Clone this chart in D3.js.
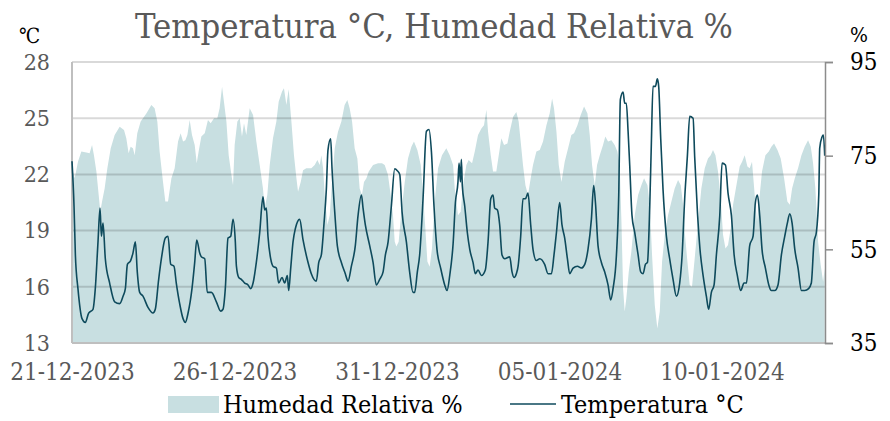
<!DOCTYPE html>
<html><head><meta charset="utf-8">
<script src="https://cdn.jsdelivr.net/npm/d3@7"></script>
<style>
body{margin:0;background:#fff;}
text{font-family:"DejaVu Serif Condensed","DejaVu Serif",serif;font-stretch:condensed;}
</style></head><body>
<svg id="chart" width="890" height="421"></svg>
<script>
// ---------------- data ----------------
const chartTitle = "Temperatura °C, Humedad Relativa %";
const tempUnit = "℃";
const humUnit = "%";
const seriesNames = ["Humedad Relativa %", "Temperatura °C"];
const startDate = "2023-12-21T00:00:00";
const endHour = 556;
const xTickDates = ["2023-12-21", "2023-12-26", "2023-12-31", "2024-01-05", "2024-01-10"];
const tempTicks = [13, 16, 19, 22, 25, 28];
const humTicks = [35, 55, 75, 95];

// [hours since start, °C]
const tempReadings = [
 [0,22.7],[1.5,20.3],[2.5,17.7],[4.4,15.9],[7.4,14.3],[9.8,14.1],[12.3,14.6],[15.5,14.8],[17.2,15.9],[19.2,18.4],
 [20.7,20.2],[21.7,18.7],[22.9,19.4],[24.6,17.5],[27.8,16.2],[31.5,15.2],[35.2,15.1],[37.7,15.5],[39.4,15.9],[40.9,17.2],
 [43.3,17.4],[45.0,17.8],[46.8,18.4],[48.2,16.8],[50.0,15.7],[52.4,15.5],[56.1,14.9],[59.8,14.6],[61.5,14.8],[64.0,16.4],
 [66.0,17.5],[68.9,18.6],[70.9,18.7],[72.9,17.2],[75.3,17.1],[77.0,16.2],[79.5,15.1],[82.0,14.3],[83.7,14.1],[85.7,14.6],
 [88.6,15.9],[90.6,17.3],[92.1,18.5],[94.3,17.8],[95.5,17.6],[98.0,17.5],[99.9,15.7],[102.9,15.7],[106.6,15.2],[109.8,14.7],
 [111.5,14.8],[113.2,15.9],[115.2,18.6],[117.2,18.7],[118.9,19.6],[120.6,18.4],[121.4,17.1],[123.1,16.5],[125.0,16.4],[127.5,16.2],
 [130.0,16.1],[131.9,15.9],[133.7,16.2],[136.1,17.3],[138.6,18.9],[141.0,20.8],[142.3,20.1],[143.5,20.2],[144.7,18.7],[146.7,17.5],
 [148.4,17.1],[150.9,17.0],[152.6,16.2],[155.1,16.5],[157.0,16.2],[159.0,16.6],[160.0,15.8],[161.5,17.0],[163.2,18.4],[164.9,19.1],
 [168.1,19.6],[170.6,18.5],[174.3,17.3],[176.7,16.7],[180.4,16.3],[182.2,17.3],[184.1,17.7],[186.1,19.4],[187.8,21.2],[189.0,23.3],
 [191.0,23.9],[192.0,22.3],[194.0,20.0],[195.9,18.2],[198.9,17.3],[201.8,16.7],[203.8,16.3],[206.3,17.1],[209.2,18.2],[211.2,19.8],
 [213.7,20.9],[214.9,20.2],[216.6,19.3],[219.8,18.2],[222.3,17.3],[224.7,16.1],[227.2,16.4],[229.7,16.8],[231.4,17.7],[233.4,18.4],
 [235.8,20.3],[238.3,22.3],[240.2,22.2],[242.0,22.0],[243.7,20.0],[246.9,18.4],[249.3,16.8],[251.8,15.7],[253.0,15.7],[255.0,16.8],
 [256.7,17.7],[259.2,20.7],[261.7,24.3],[263.6,24.4],[265.4,23.2],[267.3,20.3],[269.5,18.0],[272.2,17.0],[275.2,16.1],[276.9,15.8],
 [278.9,16.6],[281.4,18.3],[283.1,20.5],[285.0,21.6],[285.8,22.6],[286.8,21.6],[287.5,22.8],[288.2,21.4],[290.0,20.3],[291.9,18.9],
 [293.7,18.0],[296.1,17.3],[297.8,16.7],[299.8,16.9],[302.3,16.6],[305.2,16.9],[307.2,18.4],[309.2,20.7],[310.9,20.9],[312.1,20.2],
 [314.1,20.1],[315.8,19.3],[317.5,17.7],[319.5,17.5],[323.2,17.6],[324.9,16.8],[326.4,16.5],[328.1,16.7],[329.4,17.1],[331.3,18.7],
 [333.0,20.7],[334.8,20.7],[336.7,21.0],[338.7,19.3],[340.4,18.0],[342.9,17.4],[345.4,17.5],[349.0,17.2],[351.5,16.7],[354.0,16.7],
 [355.9,17.7],[357.7,18.9],[360.1,20.5],[361.8,19.3],[363.8,18.6],[365.8,17.5],[367.5,16.7],[370.0,17.0],[373.2,17.1],[376.1,17.0],
 [378.6,17.2],[381.0,18.0],[383.5,19.6],[385.2,21.4],[386.5,20.5],[388.4,18.2],[390.9,17.3],[393.3,16.8],[395.8,16.1],[397.8,15.3],
 [399.5,15.9],[402.0,17.7],[403.7,20.9],[404.9,26.0],[406.9,26.4],[408.1,25.8],[409.3,25.8],[410.6,24.3],[411.8,22.5],[413.5,19.8],
 [415.5,18.9],[418.0,17.7],[419.9,16.8],[421.7,16.7],[423.4,17.2],[424.9,17.3],[426.6,20.3],[427.8,23.7],[429.0,26.7],[430.8,26.7],
 [432.2,27.1],[433.2,26.7],[434.7,23.9],[436.4,21.2],[438.9,18.7],[441.3,17.5],[443.8,16.4],[446.3,15.5],[448.7,16.2],[450.5,17.7],
 [452.4,20.7],[454.4,23.0],[456.1,25.1],[458.6,25.0],[459.8,22.9],[461.8,20.0],[463.7,18.0],[466.0,16.6],[468.4,15.5],[470.1,14.8],
 [472.1,15.7],[474.1,16.1],[475.8,17.7],[478.3,19.8],[480.0,22.6],[482.5,22.5],[484.4,21.0],[486.9,19.8],[488.9,17.7],[491.3,16.6],
 [493.8,15.8],[496.2,16.2],[498.0,16.2],[500.4,18.2],[502.9,18.7],[504.6,20.5],[506.1,20.9],[507.8,19.8],[509.5,18.0],[512.0,17.0],
 [514.5,16.1],[516.4,15.8],[518.9,15.8],[521.3,16.1],[523.8,17.7],[526.3,18.7],[528.2,19.4],[530.0,19.9],[531.7,19.4],[533.7,18.0],
 [536.1,17.0],[538.6,15.8],[541.0,15.8],[543.9,15.9],[545.9,16.2],[547.9,18.4],[549.6,18.9],[551.4,20.9],[552.1,23.4],[553.8,24.0],
 [554.8,24.1],[555.8,23.0]
];

// [hours since start, %]
const humReadings = [
 [0,72.3],[2.0,70.2],[4.4,73.7],[6.9,75.9],[10.6,75.7],[13.0,75.5],[14.8,77.3],[16.2,75.1],[18.0,71.6],[19.7,66.6],
 [20.9,63.0],[22.2,65.2],[24.1,68.0],[26.1,72.3],[28.6,76.6],[31.5,79.4],[35.2,81.2],[38.4,80.5],[40.1,78.7],[41.8,75.5],
 [43.3,76.9],[45.0,76.6],[46.3,75.1],[48.2,79.8],[50.7,82.3],[54.9,84.0],[58.6,85.8],[61.0,85.1],[63.0,82.3],[64.7,75.9],
 [67.2,69.4],[68.9,65.2],[70.9,65.2],[73.4,70.2],[75.8,72.3],[78.3,78.0],[80.2,79.8],[82.0,78.0],[83.7,78.3],[85.2,79.4],
 [86.9,82.6],[88.6,79.4],[90.6,77.3],[92.1,73.4],[93.5,75.9],[95.5,79.1],[98.0,79.8],[100.4,82.6],[102.4,81.9],[104.9,83.0],
 [107.3,83.0],[109.0,85.1],[110.8,89.7],[112.2,86.5],[114.0,82.3],[115.7,75.1],[117.7,70.9],[118.9,68.7],[120.1,77.3],[122.1,82.3],
 [123.8,83.0],[125.5,79.1],[127.0,81.9],[128.7,79.4],[131.2,85.1],[133.7,83.7],[136.1,78.0],[138.6,73.0],[141.0,68.0],[142.3,63.8],
 [144.2,66.6],[146.0,73.0],[148.4,78.7],[150.9,82.3],[152.6,86.5],[155.1,88.7],[156.5,89.4],[158.3,85.8],[160.0,89.2],[162.0,82.3],
 [163.9,75.1],[165.7,70.2],[166.9,67.3],[168.9,69.4],[170.6,71.9],[173.0,72.3],[176.7,72.3],[179.2,73.0],[181.2,74.1],[182.9,73.0],
 [184.1,75.1],[185.4,72.3],[186.6,66.6],[188.6,60.2],[190.3,62.3],[192.0,69.4],[194.0,76.6],[196.4,80.1],[198.9,82.3],[201.3,85.8],
 [203.3,86.9],[205.0,85.1],[206.8,82.3],[208.7,76.6],[210.7,74.4],[212.4,68.0],[214.1,66.6],[215.6,69.4],[217.4,70.2],[219.1,71.6],
 [222.3,73.0],[226.0,73.4],[228.9,73.4],[230.9,73.0],[233.3,70.9],[235.3,66.6],[237.0,62.3],[238.3,56.6],[239.5,55.6],[241.2,56.6],
 [243.2,63.0],[245.7,69.4],[248.1,74.4],[250.6,76.9],[252.5,78.0],[255.0,76.2],[257.5,73.0],[259.2,66.6],[260.9,59.5],[262.4,52.4],
 [264.1,51.3],[265.8,55.2],[267.8,65.2],[270.3,72.3],[273.2,75.1],[276.4,76.6],[278.9,75.1],[281.4,73.0],[282.6,68.0],[285.0,62.3],
 [287.0,63.0],[288.7,68.7],[291.2,73.0],[292.9,74.1],[295.4,73.4],[297.4,75.9],[299.8,79.4],[302.3,80.8],[304.2,81.5],[306.0,84.8],
 [307.2,80.1],[309.2,75.1],[310.9,71.6],[313.3,71.6],[315.1,75.1],[317.0,78.7],[319.0,77.3],[321.5,77.6],[323.2,80.1],[325.7,83.3],
 [328.1,84.3],[329.8,82.3],[331.3,78.0],[333.0,73.0],[334.8,68.7],[336.7,66.6],[338.7,70.2],[340.4,73.0],[342.9,75.9],[345.4,76.2],
 [347.8,78.0],[350.3,81.5],[352.7,84.0],[354.5,87.2],[355.9,85.1],[357.7,80.1],[359.4,73.0],[361.4,69.4],[363.8,73.7],[366.3,76.6],
 [368.7,79.4],[370.7,79.8],[373.2,81.5],[375.6,83.7],[378.1,85.5],[380.6,84.0],[382.3,79.4],[384.0,73.0],[386.0,68.7],[387.7,73.0],
 [389.7,75.1],[392.1,77.3],[393.8,79.1],[395.8,78.0],[398.3,78.3],[400.7,77.3],[402.7,75.9],[404.4,73.0],[405.7,60.9],[406.9,46.7],
 [408.1,41.7],[409.3,44.5],[411.1,50.2],[413.0,54.5],[415.5,62.3],[418.0,66.6],[420.4,68.7],[422.4,70.2],[424.9,68.7],[426.6,64.5],
 [428.3,53.8],[430.3,43.1],[432.2,38.1],[434.0,41.7],[435.7,52.4],[437.7,58.1],[440.1,62.3],[442.6,65.2],[445.0,68.0],[447.5,69.8],
 [449.5,68.7],[451.2,64.5],[452.4,58.8],[454.4,52.4],[456.1,47.4],[457.8,47.0],[459.8,53.1],[462.3,60.9],[464.7,68.0],[467.2,72.3],
 [469.6,74.4],[471.6,75.1],[473.3,76.2],[475.1,75.1],[477.0,71.6],[479.0,65.9],[480.7,58.1],[482.5,55.2],[484.4,55.9],[486.4,59.5],
 [488.1,64.5],[490.6,68.7],[493.0,72.7],[494.8,73.7],[496.7,75.1],[498.7,72.7],[500.4,72.3],[502.1,73.7],[504.1,66.6],[505.8,60.9],
 [507.8,66.6],[509.5,71.6],[512.0,75.1],[514.5,75.9],[516.4,76.9],[518.4,77.6],[520.9,76.2],[523.3,74.4],[525.8,70.2],[528.2,65.2],
 [530.0,64.5],[531.7,68.0],[533.7,70.2],[536.1,72.3],[538.6,75.1],[541.0,76.9],[543.5,78.3],[545.5,76.9],[547.2,73.4],[548.9,68.0],
 [550.9,56.6],[552.8,51.7],[554.6,48.1],[555.8,50.9]
];

// ---------------- drawing ----------------
const svg = d3.select("#chart");
const M = {left: 72, right: 825, top: 62, bottom: 343};
const colors = {area: "#c8dfe1", line: "#0e4a5c", grid: "rgba(0,0,0,0.15)", axis: "#bfbfbf", rAxis: "#8c8c8c", label: "#595959"};
const FONT = '"DejaVu Serif Condensed","DejaVu Serif",serif';

const t0 = new Date(startDate);
const toDate = h => new Date(t0.getTime() + h * 3600e3);

const x = d3.scaleTime().domain([t0, toDate(endHour)]).range([M.left, M.right]);
const yT = d3.scaleLinear().domain([13, 28]).range([M.bottom, M.top]);
const yH = d3.scaleLinear().domain([35, 95]).range([M.bottom, M.top]);

// area (humidity)
const area = d3.area().x(d => x(toDate(d[0]))).y0(yH(35)).y1(d => yH(d[1]));
svg.append("path").datum(humReadings).attr("d", area).attr("fill", colors.area);

// gridlines (left scale)
svg.append("g").selectAll("line").data(tempTicks).join("line")
  .attr("x1", M.left).attr("x2", M.right)
  .attr("y1", d => yT(d)).attr("y2", d => yT(d))
  .attr("stroke", colors.grid).attr("stroke-width", 2);

// left & bottom axis lines
svg.append("line").attr("x1", M.left).attr("x2", M.left).attr("y1", M.top).attr("y2", M.bottom)
  .attr("stroke", colors.axis).attr("stroke-width", 2);
svg.append("line").attr("x1", M.left).attr("x2", M.right).attr("y1", M.bottom).attr("y2", M.bottom)
  .attr("stroke", colors.axis).attr("stroke-width", 2);

// temperature line
const line = d3.line().curve(d3.curveMonotoneX).x(d => x(toDate(d[0]))).y(d => yT(d[1]));
svg.append("path").datum(tempReadings).attr("d", line)
  .attr("fill", "none").attr("stroke", colors.line).attr("stroke-width", 1.6).attr("stroke-linejoin", "round");

// left axis labels
const gL = svg.append("g").attr("transform", `translate(${M.left},0)`)
  .call(d3.axisLeft(yT).tickValues(tempTicks).tickSize(0).tickPadding(22).tickFormat(d3.format("d")));
gL.select(".domain").remove();
gL.selectAll("text").attr("font-size", 23).attr("fill", colors.label).style("font-family", FONT);

// right axis
const gR = svg.append("g").attr("transform", `translate(${M.right},0)`)
  .call(d3.axisRight(yH).tickValues(humTicks).tickSize(8).tickPadding(17).tickFormat(d3.format("d")));
gR.select(".domain").attr("stroke", colors.rAxis).attr("stroke-width", 1.5);
gR.selectAll(".tick line").attr("stroke", colors.rAxis).attr("stroke-width", 1.5);
gR.selectAll("text").attr("font-size", 24).attr("fill", "#000").style("font-family", FONT);

// x axis labels
const fmt = d3.timeFormat("%d-%m-%Y");
const gX = svg.append("g").attr("transform", `translate(0,${M.bottom})`)
  .call(d3.axisBottom(x).tickValues(xTickDates.map(s => new Date(s + "T00:00:00"))).tickSize(0).tickPadding(20).tickFormat(fmt));
gX.select(".domain").remove();
gX.selectAll("text").attr("font-size", 24).attr("fill", colors.label).style("font-family", FONT);

// unit labels
svg.append("text").attr("x", 19).attr("y", 43).attr("font-size", 21).attr("fill", "#000").text(tempUnit);
svg.append("text").attr("x", 850).attr("y", 42).attr("font-size", 21).attr("fill", "#000").text(humUnit);

// title
const title = svg.append("text").attr("x", 434).attr("y", 38).attr("text-anchor", "middle")
  .attr("font-size", 34).attr("fill", "#595959").text(chartTitle);
const tw = title.node().getComputedTextLength();
title.attr("font-size", 34 * 598 / tw);

// legend
const lg = svg.append("g");
lg.append("rect").attr("x", 168).attr("y", 396).attr("width", 51).attr("height", 17).attr("fill", colors.area);
lg.append("text").attr("x", 223).attr("y", 413).attr("font-size", 25).attr("fill", "#000").text(seriesNames[0]);
lg.append("line").attr("x1", 510).attr("x2", 556).attr("y1", 404).attr("y2", 404).attr("stroke", colors.line).attr("stroke-width", 1.6);
lg.append("text").attr("x", 561).attr("y", 413).attr("font-size", 25).attr("fill", "#000").text(seriesNames[1]);
</script>
</body></html>
